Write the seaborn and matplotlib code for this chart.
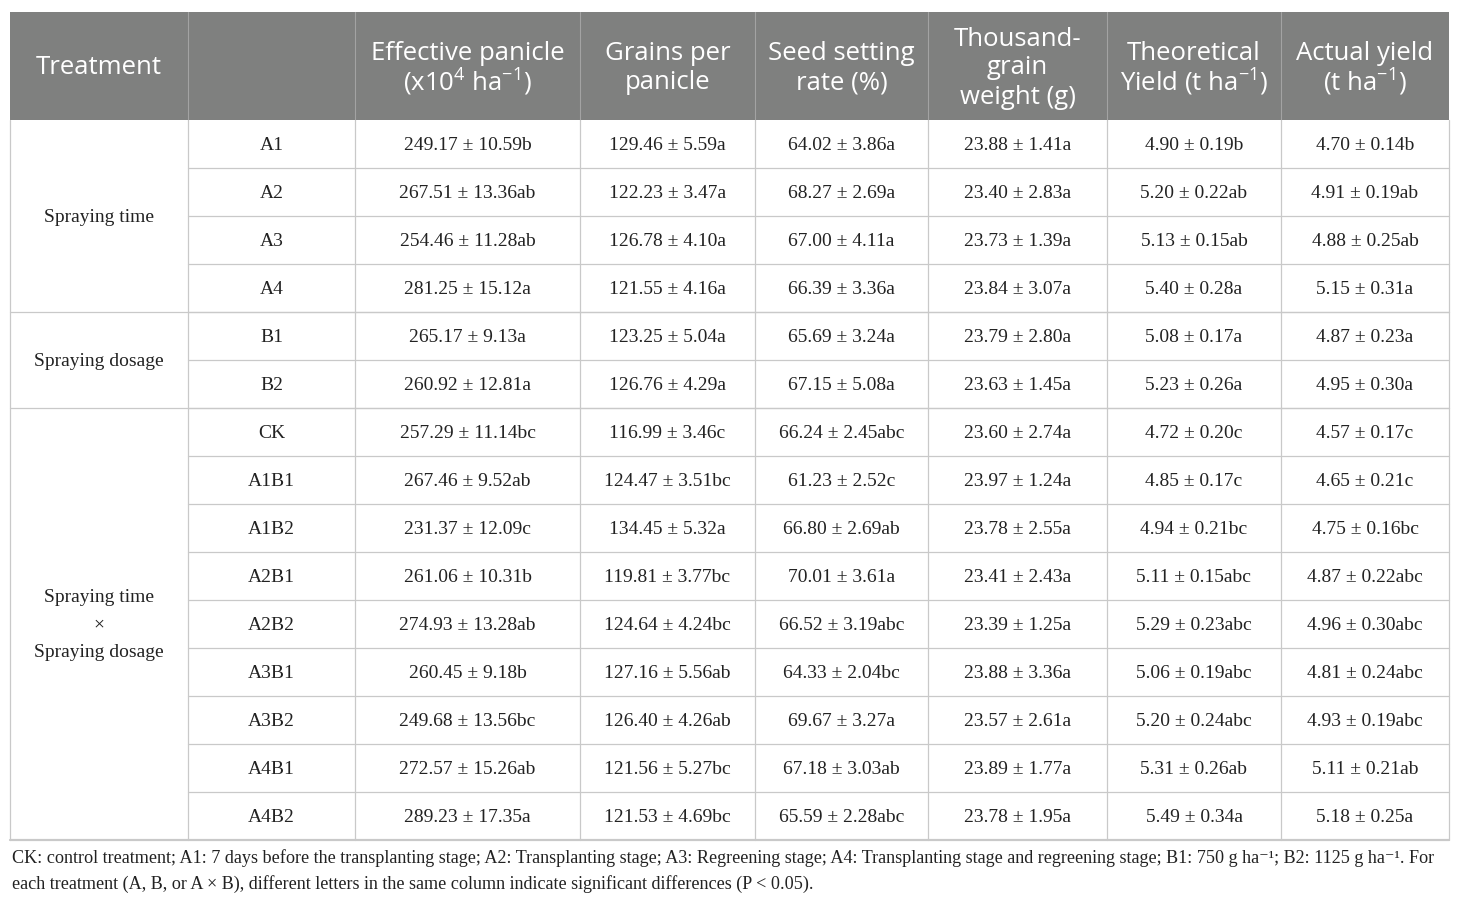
import matplotlib
matplotlib.use("Agg")
import matplotlib.pyplot as plt
from matplotlib.patches import Rectangle
import seaborn as sns

# ---------------- data ----------------
headers = ["Treatment", "",
           "Effective panicle\n(x10$^{4}$ ha$^{-1}$)",
           "Grains per\npanicle",
           "Seed setting\nrate (%)",
           "Thousand-\ngrain\nweight (g)",
           "Theoretical\nYield (t ha$^{-1}$)",
           "Actual yield\n(t ha$^{-1}$)"]

groups = ["Spraying time", "Spraying dosage", "Spraying time\n×\nSpraying dosage"]
group_sizes = [4, 2, 9]

treatments = ["A1", "A2", "A3", "A4", "B1", "B2", "CK", "A1B1", "A1B2",
              "A2B1", "A2B2", "A3B1", "A3B2", "A4B1", "A4B2"]

effective_panicle = ["249.17 ± 10.59b", "267.51 ± 13.36ab", "254.46 ± 11.28ab", "281.25 ± 15.12a",
                     "265.17 ± 9.13a", "260.92 ± 12.81a",
                     "257.29 ± 11.14bc", "267.46 ± 9.52ab", "231.37 ± 12.09c", "261.06 ± 10.31b",
                     "274.93 ± 13.28ab", "260.45 ± 9.18b", "249.68 ± 13.56bc", "272.57 ± 15.26ab",
                     "289.23 ± 17.35a"]
grains_per_panicle = ["129.46 ± 5.59a", "122.23 ± 3.47a", "126.78 ± 4.10a", "121.55 ± 4.16a",
                      "123.25 ± 5.04a", "126.76 ± 4.29a",
                      "116.99 ± 3.46c", "124.47 ± 3.51bc", "134.45 ± 5.32a", "119.81 ± 3.77bc",
                      "124.64 ± 4.24bc", "127.16 ± 5.56ab", "126.40 ± 4.26ab", "121.56 ± 5.27bc",
                      "121.53 ± 4.69bc"]
seed_setting = ["64.02 ± 3.86a", "68.27 ± 2.69a", "67.00 ± 4.11a", "66.39 ± 3.36a",
                "65.69 ± 3.24a", "67.15 ± 5.08a",
                "66.24 ± 2.45abc", "61.23 ± 2.52c", "66.80 ± 2.69ab", "70.01 ± 3.61a",
                "66.52 ± 3.19abc", "64.33 ± 2.04bc", "69.67 ± 3.27a", "67.18 ± 3.03ab",
                "65.59 ± 2.28abc"]
thousand_grain = ["23.88 ± 1.41a", "23.40 ± 2.83a", "23.73 ± 1.39a", "23.84 ± 3.07a",
                  "23.79 ± 2.80a", "23.63 ± 1.45a",
                  "23.60 ± 2.74a", "23.97 ± 1.24a", "23.78 ± 2.55a", "23.41 ± 2.43a",
                  "23.39 ± 1.25a", "23.88 ± 3.36a", "23.57 ± 2.61a", "23.89 ± 1.77a",
                  "23.78 ± 1.95a"]
theoretical_yield = ["4.90 ± 0.19b", "5.20 ± 0.22ab", "5.13 ± 0.15ab", "5.40 ± 0.28a",
                     "5.08 ± 0.17a", "5.23 ± 0.26a",
                     "4.72 ± 0.20c", "4.85 ± 0.17c", "4.94 ± 0.21bc", "5.11 ± 0.15abc",
                     "5.29 ± 0.23abc", "5.06 ± 0.19abc", "5.20 ± 0.24abc", "5.31 ± 0.26ab",
                     "5.49 ± 0.34a"]
actual_yield = ["4.70 ± 0.14b", "4.91 ± 0.19ab", "4.88 ± 0.25ab", "5.15 ± 0.31a",
                "4.87 ± 0.23a", "4.95 ± 0.30a",
                "4.57 ± 0.17c", "4.65 ± 0.21c", "4.75 ± 0.16bc", "4.87 ± 0.22abc",
                "4.96 ± 0.30abc", "4.81 ± 0.24abc", "4.93 ± 0.19abc", "5.11 ± 0.21ab",
                "5.18 ± 0.25a"]

footnote_lines = [
    "CK: control treatment; A1: 7 days before the transplanting stage; A2: Transplanting stage; "
    "A3: Regreening stage; A4: Transplanting stage and regreening stage; B1: 750 g ha⁻¹; B2: 1125 g ha⁻¹. For",
    "each treatment (A, B, or A × B), different letters in the same column indicate significant differences (P < 0.05).",
]

# ---------------- layout ----------------
col_edges = [10, 188, 355, 580, 755, 928, 1107, 1281, 1449]
header_top, header_bottom = 12, 120
row_h = 48
header_line_gap = 29
group_line_gap = 27.5

sns.set_theme(style="white")
plt.rcParams["mathtext.fontset"] = "custom"
plt.rcParams["mathtext.rm"] = "Open Sans"
plt.rcParams["mathtext.it"] = "Open Sans"

fig = plt.figure(figsize=(14.6, 9.05), dpi=100)
ax = fig.add_axes([0, 0, 1, 1])
ax.set_xlim(0, 1460)
ax.set_ylim(905, 0)
ax.axis("off")

header_bg = "#7f807f"
grid_c = "#c9c9c9"
text_c = "#222222"
sans = ["Open Sans", "DejaVu Sans"]
serif = ["Liberation Serif", "DejaVu Serif"]


def multiline(x, yc, txt, gap, **kw):
    lines = txt.split("\n")
    n = len(lines)
    for k, ln in enumerate(lines):
        ax.text(x, yc + (k - (n - 1) / 2) * gap, ln, ha="center", va="center", **kw)


# header background
ax.add_patch(Rectangle((col_edges[0], header_top), col_edges[-1] - col_edges[0],
                       header_bottom - header_top, facecolor=header_bg, edgecolor="none"))
for x in col_edges[1:-1]:
    ax.plot([x, x], [header_top, header_bottom], color="#a3a3a3", lw=0.8)

for i, h in enumerate(headers):
    cx = (col_edges[i] + col_edges[i + 1]) / 2
    multiline(cx, (header_top + header_bottom) / 2 + 2, h, header_line_gap,
              color="white", fontsize=18.5, family=sans)

# body
columns = [effective_panicle, grains_per_panicle, seed_setting, thousand_grain,
           theoretical_yield, actual_yield]
n_rows = len(treatments)
body_bottom = header_bottom + n_rows * row_h

for r in range(1, n_rows):
    y = header_bottom + r * row_h
    ax.plot([col_edges[1], col_edges[-1]], [y, y], color=grid_c, lw=0.9)
start = 0
for gs in group_sizes[:-1]:
    start += gs
    y = header_bottom + start * row_h
    ax.plot([col_edges[0], col_edges[-1]], [y, y], color=grid_c, lw=0.9)
ax.plot([col_edges[0], col_edges[-1]], [body_bottom, body_bottom], color=grid_c, lw=1.6)
for x in col_edges:
    ax.plot([x, x], [header_bottom, body_bottom], color=grid_c, lw=0.9)

start = 0
for g, gs in zip(groups, group_sizes):
    cy = header_bottom + (start + gs / 2) * row_h
    multiline((col_edges[0] + col_edges[1]) / 2, cy + 1, g, group_line_gap,
              fontsize=14, family=serif, color=text_c)
    start += gs

for r in range(n_rows):
    cy = header_bottom + (r + 0.5) * row_h + 1
    ax.text((col_edges[1] + col_edges[2]) / 2, cy, treatments[r], ha="center", va="center",
            fontsize=14, family=serif, color=text_c)
    for c, col in enumerate(columns):
        cx = (col_edges[c + 2] + col_edges[c + 3]) / 2
        ax.text(cx, cy, col[r], ha="center", va="center",
                fontsize=14, family=serif, color=text_c)

for k, line in enumerate(footnote_lines):
    ax.text(12, 858 + k * 26, line, ha="left", va="center", fontsize=13.1,
            family=serif, color=text_c)

fig.savefig("out.png", dpi=100)
